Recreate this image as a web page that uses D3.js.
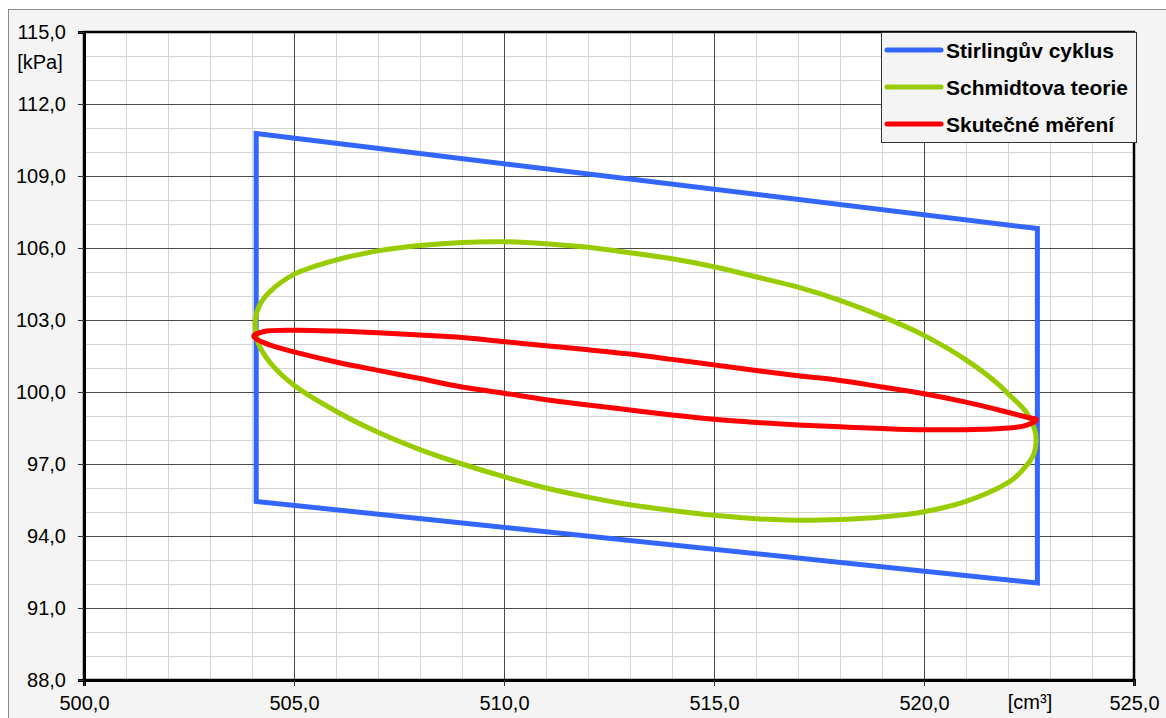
<!DOCTYPE html>
<html>
<head>
<meta charset="utf-8">
<script src="https://cdn.jsdelivr.net/npm/d3@7"></script>
<style>
  html, body { margin: 0; padding: 0; background: #ffffff; }
  svg { display: block; font-family: "Liberation Sans", Arial, sans-serif; }
</style>
</head>
<body>
<svg id="chart" width="1166" height="718"></svg>
<script>
// Volume [cm³] and pressure [kPa] for each cycle
const stirlingV = [504.1, 522.7, 522.7, 504.1];
const stirlingP = [110.77, 106.81, 92.04, 95.44];

const schmidtV = [504.08, 504.18, 504.42, 505, 506, 507, 508, 509, 510, 511, 512, 513, 514, 515, 516, 517, 518, 519, 520, 521, 521.8, 522, 522.43, 522.63, 522.67, 522.6, 522.28, 522, 521, 520, 519, 518, 517, 516, 515, 514, 513, 512, 511, 510, 509, 508, 507, 506, 505, 504.42, 504.14];
const schmidtP = [102.95, 103.62, 104.17, 104.9, 105.5, 105.88, 106.1, 106.23, 106.26, 106.18, 106.03, 105.8, 105.55, 105.22, 104.8, 104.37, 103.82, 103.15, 102.36, 101.34, 100.28, 99.93, 99.17, 98.47, 97.99, 97.35, 96.62, 96.22, 95.44, 95.01, 94.79, 94.69, 94.66, 94.72, 94.86, 95.06, 95.3, 95.62, 96.0, 96.47, 97.0, 97.6, 98.32, 99.2, 100.28, 101.25, 102.08];

const measuredV = [504.04, 504.26, 505, 506, 507, 508, 509, 510, 511, 512, 513, 514, 515, 516, 517, 518, 519, 520, 521, 521.8, 522.43, 522.68, 522.43, 522, 521, 520, 519, 518, 517, 516, 515, 514, 513, 512, 511, 510, 509, 508, 507, 506, 505, 504.42, 504.14];
const measuredP = [102.33, 102.51, 102.57, 102.54, 102.47, 102.37, 102.27, 102.1, 101.93, 101.76, 101.58, 101.36, 101.13, 100.9, 100.68, 100.48, 100.21, 99.93, 99.58, 99.24, 98.96, 98.84, 98.61, 98.5, 98.43, 98.43, 98.48, 98.55, 98.63, 98.73, 98.86, 99.04, 99.25, 99.46, 99.68, 99.95, 100.21, 100.56, 100.9, 101.25, 101.67, 101.96, 102.17];

const seriesNames = ["Stirlingův cyklus", "Schmidtova teorie", "Skutečné měření"];
const seriesColors = ["#3366ff", "#99cc00", "#ff0000"];

const xTicks = [500, 505, 510, 515, 520, 525];
const yTicks = [88, 91, 94, 97, 100, 103, 106, 109, 112, 115];
const xUnit = "[cm³]";
const yUnit = "[kPa]";

const fmt = d => d.toFixed(1).replace(".", ",");

const svg = d3.select("#chart");
const margin = { left: 84, top: 32, right: 1134, bottom: 680 };

const x = d3.scaleLinear().domain([500, 525]).range([margin.left, margin.right]);
const y = d3.scaleLinear().domain([88, 115]).range([margin.bottom, margin.top]);

// chart area background
svg.append("rect")
  .attr("x", 8.5).attr("y", 9.5)
  .attr("width", 1166).attr("height", 718)
  .attr("fill", "#f4f4f4").attr("stroke", "#8a8a8a").attr("stroke-width", 1);

// plot area
svg.append("rect")
  .attr("x", margin.left).attr("y", margin.top)
  .attr("width", margin.right - margin.left).attr("height", margin.bottom - margin.top)
  .attr("fill", "#ffffff");

// grid: minor every unit, major on the labelled ticks
const grid = svg.append("g").attr("shape-rendering", "crispEdges");
const minorX = d3.range(501, 525).filter(d => d % 5 !== 0);
const majorX = d3.range(505, 525, 5);
const minorY = d3.range(89, 115).filter(d => (d - 88) % 3 !== 0);
const majorY = d3.range(91, 115, 3);

function vLines(vals, color) {
  grid.append("g").selectAll("line").data(vals).join("line")
    .attr("x1", d => Math.round(x(d)) + 0.5).attr("x2", d => Math.round(x(d)) + 0.5)
    .attr("y1", margin.top).attr("y2", margin.bottom)
    .attr("stroke", color).attr("stroke-width", 1);
}
function hLines(vals, color) {
  grid.append("g").selectAll("line").data(vals).join("line")
    .attr("y1", d => Math.round(y(d)) + 0.5).attr("y2", d => Math.round(y(d)) + 0.5)
    .attr("x1", margin.left).attr("x2", margin.right)
    .attr("stroke", color).attr("stroke-width", 1);
}
vLines(minorX, "#d4d4d4");
hLines(minorY, "#d4d4d4");
vLines(majorX, "#4a4a4a");
hLines(majorY, "#4a4a4a");

// plot frame
svg.append("rect")
  .attr("x", margin.left).attr("y", margin.top)
  .attr("width", margin.right - margin.left).attr("height", margin.bottom - margin.top)
  .attr("fill", "none").attr("stroke", "#000").attr("stroke-width", 2.5);

// axes
const xAxis = d3.axisBottom(x).tickValues(xTicks).tickFormat(fmt).tickSize(6).tickPadding(10);
const yAxis = d3.axisLeft(y).tickValues(yTicks).tickFormat(fmt).tickSize(6).tickPadding(12);

const gx = svg.append("g").attr("transform", `translate(0,${margin.bottom})`).call(xAxis);
const gy = svg.append("g").attr("transform", `translate(${margin.left},0)`).call(yAxis);
[gx, gy].forEach(g => {
  g.select(".domain").attr("stroke", "#000").attr("stroke-width", 3);
  g.selectAll(".tick line").attr("stroke", "#333").attr("stroke-width", 1);
  g.selectAll(".tick text").attr("fill", "#000").attr("font-size", 20)
    .attr("font-family", "'Liberation Sans', Arial, sans-serif");
});

svg.append("text").attr("x", 40).attr("y", 69).attr("text-anchor", "middle")
  .attr("font-size", 20).attr("fill", "#000").text(yUnit);
svg.append("text").attr("x", 1030).attr("y", 709).attr("text-anchor", "middle")
  .attr("font-size", 20).attr("fill", "#000").text(xUnit);

// series
const plot = svg.append("g");
const toPts = (vs, ps) => vs.map((v, i) => [v, ps[i]]);

const poly = d3.line().x(d => x(d[0])).y(d => y(d[1])).curve(d3.curveLinearClosed);
const smooth = d3.line().x(d => x(d[0])).y(d => y(d[1])).curve(d3.curveCatmullRomClosed.alpha(0.5));

plot.append("path").datum(toPts(stirlingV, stirlingP))
  .attr("d", poly).attr("fill", "none").attr("stroke", seriesColors[0])
  .attr("stroke-width", 5).attr("stroke-linejoin", "miter");
plot.append("path").datum(toPts(schmidtV, schmidtP))
  .attr("d", smooth).attr("fill", "none").attr("stroke", seriesColors[1])
  .attr("stroke-width", 5).attr("stroke-linejoin", "round");
plot.append("path").datum(toPts(measuredV, measuredP))
  .attr("d", smooth).attr("fill", "none").attr("stroke", seriesColors[2])
  .attr("stroke-width", 5).attr("stroke-linejoin", "round");

// legend
const legend = svg.append("g");
legend.append("rect").attr("x", 881.5).attr("y", 32.5).attr("width", 255).attr("height", 110)
  .attr("fill", "#f4f4f4").attr("stroke", "#333").attr("stroke-width", 1);
const rows = legend.selectAll(".row").data(seriesNames).join("g")
  .attr("transform", (d, i) => `translate(0,${50 + i * 37})`);
rows.append("line").attr("x1", 887).attr("x2", 941).attr("y1", 0).attr("y2", 0)
  .attr("stroke", (d, i) => seriesColors[i]).attr("stroke-width", 5).attr("stroke-linecap", "round");
rows.append("text").attr("x", 946).attr("y", 0).attr("dy", "0.36em")
  .attr("font-size", 21).attr("font-weight", "bold").attr("fill", "#000").text(d => d);
</script>
</body>
</html>
